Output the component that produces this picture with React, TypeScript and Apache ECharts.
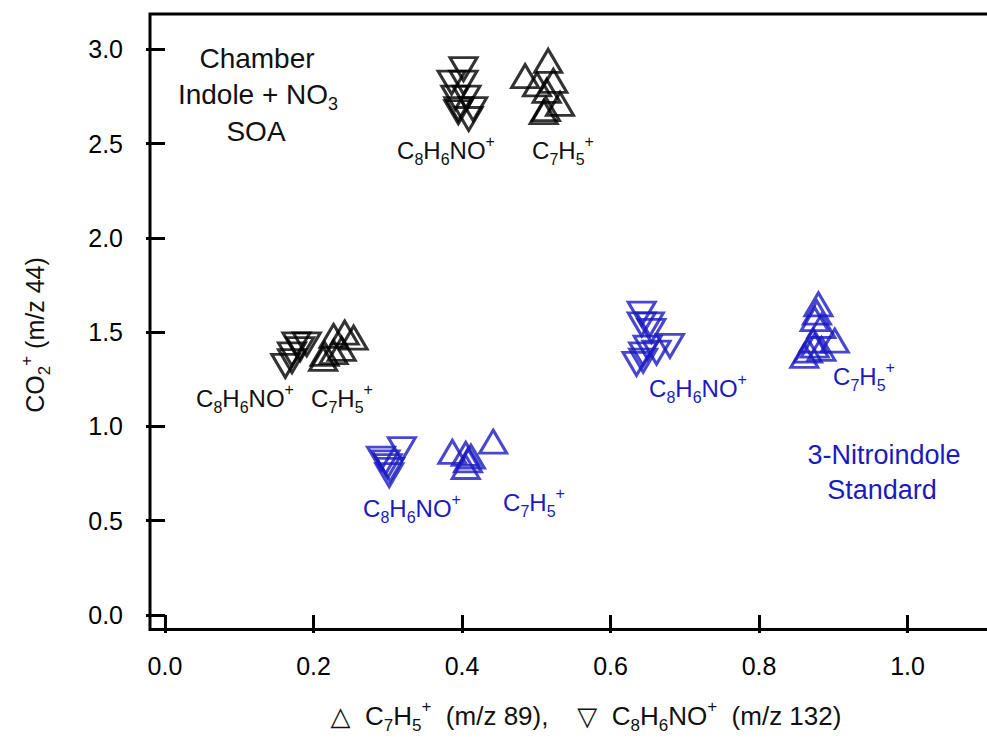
import React, { useEffect, useRef } from 'react';
import * as echarts from 'echarts';

const xTicks = [0, 0.2, 0.4, 0.6, 0.8, 1.0];
const yTicks = [0, 0.5, 1.0, 1.5, 2.0, 2.5, 3.0];

// Chamber (Indole + NO3 SOA), black
const chamberHighC7H5 = [[0.516, 2.939], [0.485, 2.859], [0.523, 2.833], [0.501, 2.815], [0.514, 2.78], [0.532, 2.711], [0.513, 2.684], [0.51, 2.667]];
const chamberHighC8H6NO = [[0.402, 2.895], [0.386, 2.824], [0.402, 2.824], [0.391, 2.744], [0.406, 2.744], [0.395, 2.683], [0.415, 2.683], [0.409, 2.631], [0.395, 2.667]];
const chamberLowC7H5 = [[0.242, 1.498], [0.227, 1.48], [0.254, 1.471], [0.215, 1.385], [0.213, 1.358], [0.227, 1.394], [0.238, 1.411]];
const chamberLowC8H6NO = [[0.162, 1.321], [0.171, 1.347], [0.177, 1.436], [0.191, 1.436], [0.182, 1.41], [0.171, 1.383]];
// 3-Nitroindole standard, blue
const standardLowC7H5 = [[0.442, 0.919], [0.387, 0.865], [0.405, 0.855], [0.412, 0.84], [0.408, 0.82], [0.405, 0.785]];
const standardLowC8H6NO = [[0.319, 0.88], [0.291, 0.83], [0.297, 0.81], [0.3, 0.79], [0.303, 0.77], [0.302, 0.742]];
const standardHighC7H5 = [[0.88, 1.648], [0.878, 1.604], [0.875, 1.569], [0.884, 1.533], [0.902, 1.455], [0.873, 1.455], [0.875, 1.429], [0.866, 1.402], [0.861, 1.375], [0.884, 1.411]];
const standardHighC8H6NO = [[0.642, 1.598], [0.642, 1.542], [0.653, 1.542], [0.655, 1.507], [0.68, 1.427], [0.65, 1.418], [0.662, 1.392], [0.635, 1.332], [0.644, 1.383], [0.644, 1.349]];

const FONT = '"Liberation Sans", Arial, sans-serif';
const BLACK = '#000000';
const BLUE = '#1a1ac0';

function rich(size: number, color: string) {
  const small = Math.round(size * 0.66);
  return {
    m: { fontSize: size, lineHeight: size + 10, fill: color, fontFamily: FONT },
    s: { fontSize: small, lineHeight: small, verticalAlign: 'bottom', fill: color, fontFamily: FONT },
    p: { fontSize: small, lineHeight: small, verticalAlign: 'top', fill: color, fontFamily: FONT },
    t: { fontSize: size, lineHeight: size + 10, fill: color, fontFamily: '"DejaVu Sans", sans-serif' },
  };
}

function label(text: string, x: number, y: number, color: string, size = 24, rotation = 0) {
  return {
    type: 'text',
    x,
    y,
    rotation,
    style: {
      text,
      rich: rich(size, color),
      align: 'center',
      verticalAlign: 'middle',
      fill: color,
      fontFamily: FONT,
      fontSize: size,
    },
  };
}

const C8 = '{m|C}{s|8}{m|H}{s|6}{m|NO}{p|+}';
const C7 = '{m|C}{s|7}{m|H}{s|5}{p|+}';

function scatter(data: number[][], color: string, down: boolean) {
  return {
    type: 'scatter',
    data,
    symbol: 'triangle',
    symbolSize: [27, 23],
    symbolRotate: down ? 180 : 0,
    itemStyle: { color: 'rgba(0,0,0,0)', borderColor: color, borderWidth: 3 },
    silent: true,
  };
}

export default function App() {
  const ref = useRef<HTMLDivElement>(null);
  useEffect(() => {
    if (!ref.current) return;
    const chart = echarts.init(ref.current, undefined, { renderer: 'svg' });
    const axisLabel = { color: '#000', fontSize: 25, fontFamily: FONT };
    chart.setOption({
      animation: false,
      backgroundColor: '#ffffff',
      grid: {
        left: 150,
        top: 14,
        width: 845,
        height: 615.5,
        show: true,
        borderColor: '#000',
        borderWidth: 3,
        containLabel: false,
        outerBoundsMode: 'none',
      },
      xAxis: {
        type: 'value',
        min: -0.0202,
        max: 1.1178,
        splitLine: { show: false },
        axisLine: { show: false },
        axisTick: { show: true, length: 18, inside: false, customValues: xTicks, lineStyle: { color: '#000', width: 3 } },
        axisLabel: { ...axisLabel, margin: 24, customValues: xTicks, formatter: (v: number) => v.toFixed(1) },
      },
      yAxis: {
        type: 'value',
        min: -0.077,
        max: 3.188,
        splitLine: { show: false },
        axisLine: { show: false },
        axisTick: { show: true, length: 19, inside: false, customValues: yTicks, lineStyle: { color: '#000', width: 3 } },
        axisLabel: { ...axisLabel, margin: 27, customValues: yTicks, formatter: (v: number) => v.toFixed(1) },
      },
      series: [
        scatter(chamberHighC7H5.concat(chamberLowC7H5), BLACK, false),
        scatter(chamberHighC8H6NO.concat(chamberLowC8H6NO), BLACK, true),
        scatter(standardLowC7H5.concat(standardHighC7H5), BLUE, false),
        scatter(standardLowC8H6NO.concat(standardHighC8H6NO), BLUE, true),
      ],
      graphic: [
        label(C8, 446, 150, '#111'),
        label(C7, 563, 150, '#111'),
        label(C8, 245, 398, '#111'),
        label(C7, 342, 398, '#111'),
        label(C8, 412, 508, BLUE),
        label(C7, 534, 502, BLUE),
        label(C8, 698, 388, BLUE),
        label(C7, 864, 376, BLUE),
        label('{m|Chamber}', 257, 58, '#111', 28),
        label('{m|Indole + NO}{s|3}', 258, 94, '#111', 28),
        label('{m|SOA}', 256, 131, '#111', 28),
        label('{m|3-Nitroindole}', 884, 455, BLUE, 27),
        label('{m|Standard}', 882, 490, BLUE, 27),
        label('{t|△}{m|  C}{s|7}{m|H}{s|5}{p|+}{m|  (m/z 89),    }{t|▽}{m|  C}{s|8}{m|H}{s|6}{m|NO}{p|+}{m|  (m/z 132)}', 586, 716, '#111', 26),
        label('{m|CO}{s|2}{p|+}{m| (m/z 44)}', 35, 335, '#111', 25, Math.PI / 2),
      ],
    });
    return () => chart.dispose();
  }, []);
  return <div ref={ref} style={{ width: 987, height: 738, position: 'absolute', left: 0, top: 0 }} />;
}
